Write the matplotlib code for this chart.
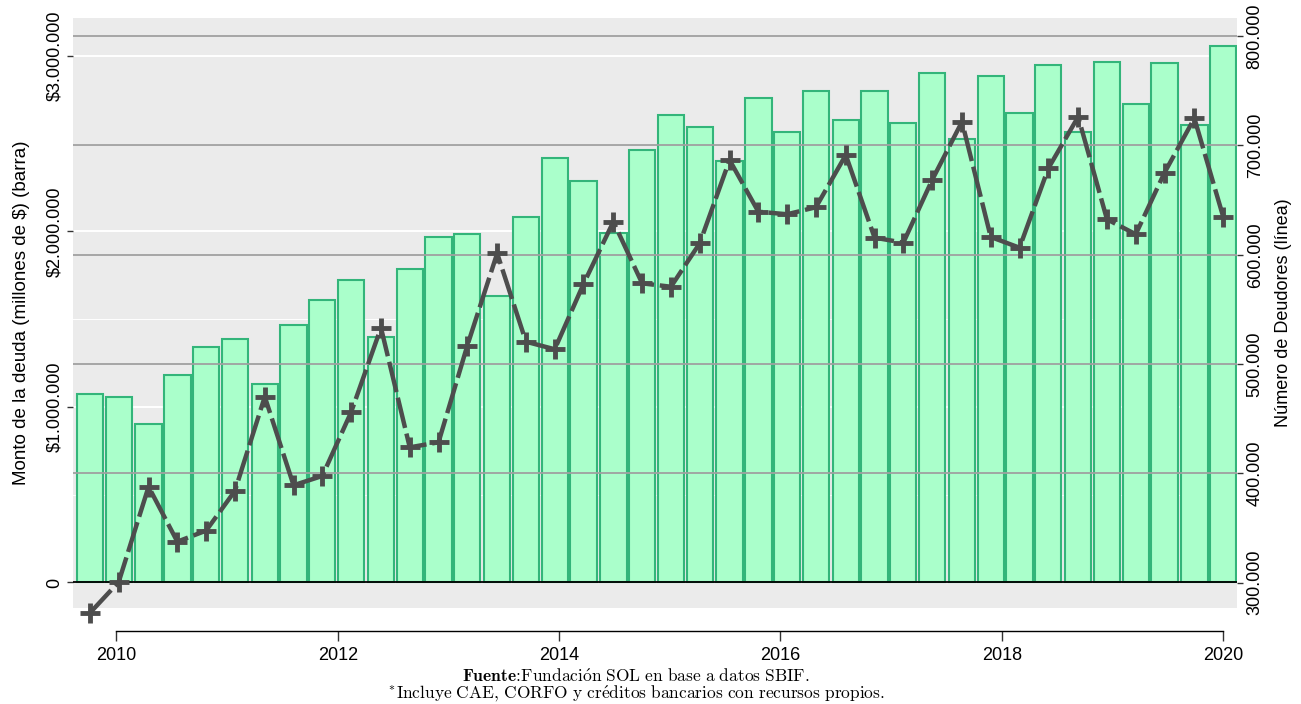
import matplotlib
matplotlib.use('Agg')
import matplotlib.pyplot as plt

plt.rcParams['font.family'] = ['Liberation Sans', 'DejaVu Sans']
plt.rcParams['mathtext.fontset'] = 'cm'

# periodos (año decimal) y valores
periodos = [2009.76, 2010.02, 2010.29, 2010.55, 2010.81, 2011.07, 2011.34, 2011.60,
            2011.86, 2012.12, 2012.39, 2012.65, 2012.91, 2013.17, 2013.44, 2013.70,
            2013.96, 2014.22, 2014.49, 2014.75, 2015.01, 2015.27, 2015.54, 2015.80,
            2016.06, 2016.32, 2016.59, 2016.85, 2017.11, 2017.37, 2017.64, 2017.90,
            2018.16, 2018.42, 2018.69, 2018.95, 2019.21, 2019.47, 2019.74, 2020.00]

monto_deuda = [1075000, 1058000, 901000, 1183000, 1343000, 1385000, 1129000, 1466000,
               1610000, 1721000, 1400000, 1785000, 1969000, 1983000, 1633000, 2083000,
               2419000, 2286000, 1989000, 2463000, 2661000, 2596000, 2402000, 2761000,
               2565000, 2801000, 2634000, 2799000, 2618000, 2900000, 2526000, 2884000,
               2672000, 2947000, 2567000, 2966000, 2725000, 2960000, 2605000, 3055000]

n_deudores = [272300, 300600, 387800, 337500, 347600, 383900, 470100, 389100,
              397600, 455900, 533200, 423800, 428400, 516800, 601300, 520400,
              513500, 573200, 630200, 573800, 570700, 610400, 686600, 639300,
              637000, 643400, 691200, 615600, 611000, 668300, 721600, 616200,
              606400, 679000, 726200, 632400, 618700, 675000, 724800, 634800]

ticks_izq = [0, 1000000, 2000000, 3000000]
labels_izq = ['0', '\\$1.000.000', '\\$2.000.000', '\\$3.000.000']
ticks_der = [300000, 400000, 500000, 600000, 700000, 800000]
labels_der = ['300.000', '400.000', '500.000', '600.000', '700.000', '800.000']
anios = [2010, 2012, 2014, 2016, 2018, 2020]

fig = plt.figure(figsize=(13.01, 7.04), dpi=100)
ax = fig.add_axes([0.0561, 0.1368, 0.8947, 0.8376])
ax.set_facecolor('#ebebeb')

# grilla blanca (eje izquierdo)
for y in ticks_izq[1:]:
    ax.axhline(y, color='white', lw=1.4, zorder=0)
for y in [500000, 1500000, 2500000]:
    ax.axhline(y, color='white', lw=0.7, zorder=0)

ax.bar(periodos, monto_deuda, width=0.238, color='#aaffcb', edgecolor='#33b57a',
       linewidth=1.5, zorder=1)
ax.axhline(0, color='black', lw=1.3, zorder=2)

for s in ['top', 'right', 'left']:
    ax.spines[s].set_visible(False)
ax.spines['bottom'].set_position(('outward', 17))
ax.spines['bottom'].set_bounds(2010, 2020)
ax.spines['bottom'].set_linewidth(1.0)

ax.set_xlim(2009.607, 2020.125)
ax.set_ylim(-143500, 3214700)
ax.set_yticks(ticks_izq)
ax.set_yticklabels(labels_izq, rotation=90, va='center')
ax.set_ylabel('Monto de la deuda (millones de \\$) (barra)', fontsize=13.5, labelpad=12)
ax.set_xticks(anios)
ax.set_xticklabels([str(a) for a in anios])
ax.tick_params(axis='x', length=7, width=1.0, color='#333333', pad=4, labelsize=13)
ax.tick_params(axis='y', length=4, width=1.0, color='#333333', pad=3, labelsize=13)

ax2 = ax.twinx()
ax2.set_ylim(277100, 816500)
for y in ticks_der[1:]:
    ax2.axhline(y, color='#a0a0a0', lw=1.3, zorder=1)
ax2.plot(periodos, n_deudores, color='#4d4d4d', lw=3.2, dashes=(7, 1.3),
         marker='+', markersize=14, markeredgewidth=3.5, zorder=3, clip_on=False)
ax2.set_yticks(ticks_der)
ax2.set_yticklabels(labels_der, rotation=90, va='center')
ax2.set_ylabel('Número de Deudores (línea)', fontsize=13, labelpad=8)
for s in ['top', 'right', 'left', 'bottom']:
    ax2.spines[s].set_visible(False)
ax2.tick_params(axis='y', length=4, width=1.0, color='#333333', pad=3, labelsize=13)

fig.text(0.489, 0.0395,
         r'$\mathbf{Fuente}\!\mathbf{:}\!\mathrm{Fundaci\acute{o}n\ SOL\ en\ base\ a\ datos\ SBIF.}$',
         ha='center', va='center', fontsize=12.5)
fig.text(0.489, 0.0145,
         r'$\mathrm{^{*}Incluye\ CAE,\!\ CORFO\ y\ cr\acute{e}ditos\ bancarios\ con\ recursos\ propios.}$',
         ha='center', va='center', fontsize=12.5)

fig.savefig('out.png', dpi=100)
